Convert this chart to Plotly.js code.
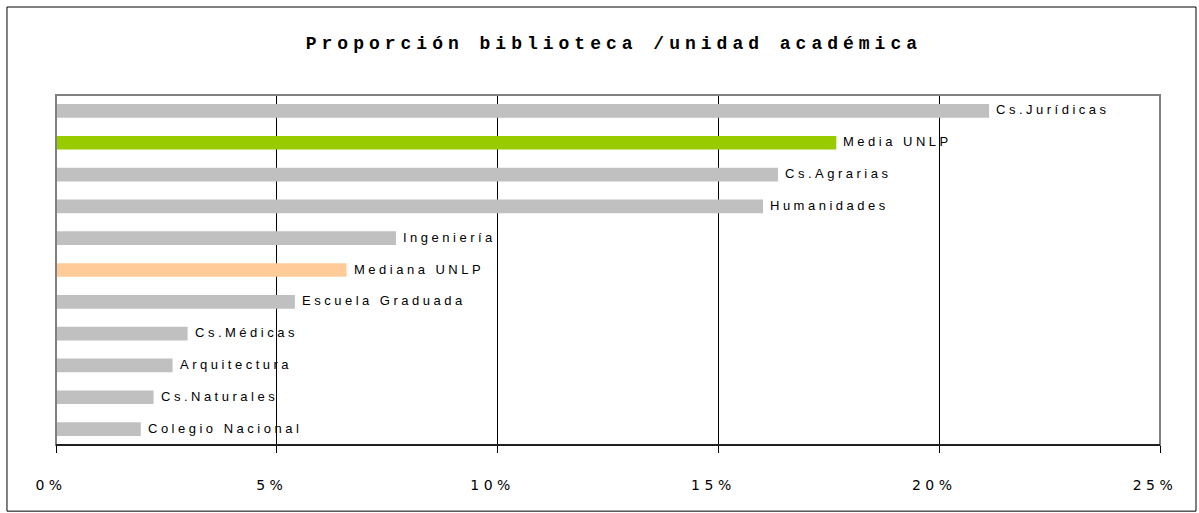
<!DOCTYPE html>
<html>
<head>
<meta charset="utf-8">
<script src="https://cdn.plot.ly/plotly-3.0.1.min.js"></script>
<style>
  html, body { margin: 0; padding: 0; background: #fff; }
  #chart { width: 1199px; height: 513px; }
  .gtitle { letter-spacing: 5px; }
  .annotation-text { letter-spacing: 3.5px; }
  .xtick text { letter-spacing: 4.5px; }
</style>
</head>
<body>
<div id="chart"></div>
<script>
// Data (top to bottom as shown)
const categories = ["Cs.Jurídicas", "Media UNLP", "Cs.Agrarias", "Humanidades", "Ingeniería",
  "Mediana UNLP", "Escuela Graduada", "Cs.Médicas", "Arquitectura", "Cs.Naturales", "Colegio Nacional"];
const values = [21.13, 17.67, 16.35, 16.01, 7.70, 6.58, 5.41, 2.98, 2.64, 2.21, 1.92];
const barColors = ["#C0C0C0", "#99CC00", "#C0C0C0", "#C0C0C0", "#C0C0C0",
  "#FFCC99", "#C0C0C0", "#C0C0C0", "#C0C0C0", "#C0C0C0", "#C0C0C0"];
const tickVals = [0, 5, 10, 15, 20, 25];
const tickText = ["0%", "5%", "10%", "15%", "20%", "25%"];
const titleText = "Proporción biblioteca /unidad académica";

const trace = {
  type: "bar",
  orientation: "h",
  x: values,
  y: categories,
  marker: { color: barColors, line: { width: 0 } },
  hoverinfo: "x+y"
};

const annotations = categories.map((c, i) => ({
  x: values[i], y: c, xref: "x", yref: "y",
  text: c, showarrow: false, xanchor: "left", yanchor: "middle",
  xshift: 5, yshift: 1,
  font: { family: "Liberation Sans, Arial, sans-serif", size: 13, color: "#000" }
}));

const layout = {
  width: 1199, height: 513,
  margin: { l: 56, r: 39, t: 95, b: 68 },
  paper_bgcolor: "#ffffff", plot_bgcolor: "#ffffff",
  showlegend: false,
  bargap: 0.57,
  title: {
    text: "<b>" + titleText + "</b>",
    x: 0.512, xref: "container", xanchor: "center",
    y: 0.916, yref: "container", yanchor: "middle",
    font: { family: "Liberation Mono, Courier New, monospace", size: 18, color: "#000" }
  },
  xaxis: {
    range: [0, 25],
    tickvals: tickVals, ticktext: tickText,
    showgrid: true, gridcolor: "#000000", gridwidth: 1,
    zeroline: false,
    showline: true, linecolor: "#000000", linewidth: 1,
    ticks: "outside", ticklen: 7, tickcolor: "#000000", tickwidth: 1,
    ticklabelstandoff: 20, ticklabelshift: -5,
    tickfont: { family: "DejaVu Sans, sans-serif", size: 14, color: "#000" },
    fixedrange: true
  },
  yaxis: {
    autorange: "reversed",
    showticklabels: false, ticks: "", showgrid: false, zeroline: false,
    showline: false, fixedrange: true
  },
  annotations: annotations,
  shapes: [
    // plot area border (gray)
    { type: "rect", xref: "paper", yref: "paper", x0: 0, x1: 1, y0: 0, y1: 1,
      line: { color: "#808080", width: 2 }, layer: "above" },
    // bottom axis line (black) over gray border
    { type: "line", xref: "paper", yref: "paper", x0: 0, x1: 1, y0: 0, y1: 0,
      line: { color: "#000000", width: 1.5 }, layer: "above" },
    // outer chart border
    { type: "rect", xref: "paper", yref: "paper",
      x0: -0.0444, x1: 1.0326, y0: -0.189, y1: 1.2514,
      line: { color: "#000000", width: 1 }, layer: "below" }
  ]
};

Plotly.newPlot("chart", [trace], layout, { staticPlot: true, displayModeBar: false });
</script>
</body>
</html>
